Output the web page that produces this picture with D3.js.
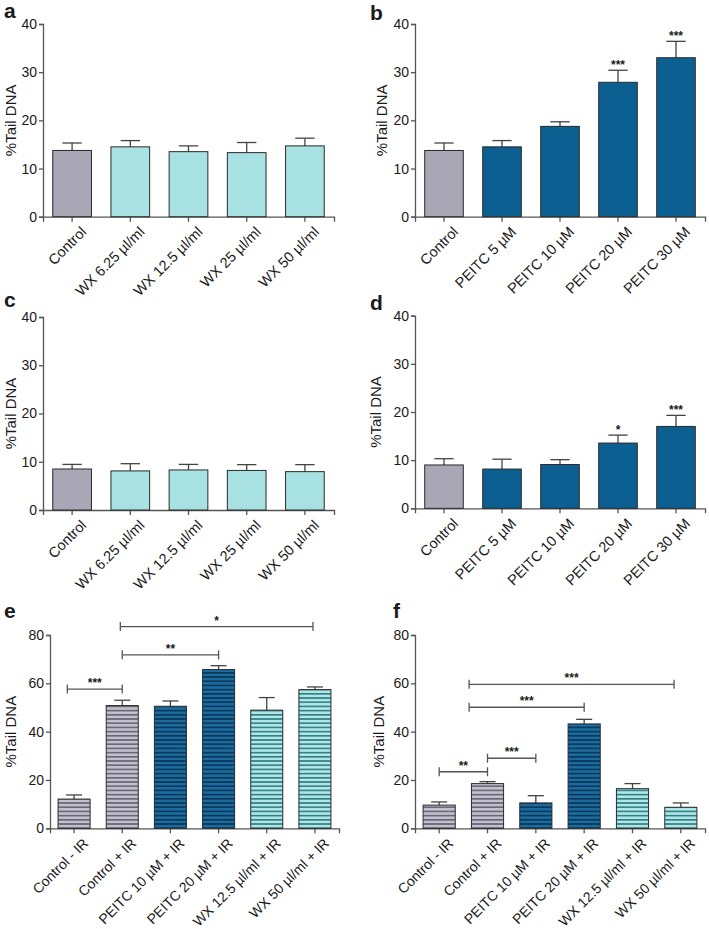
<!DOCTYPE html>
<html><head><meta charset="utf-8">
<script src="https://cdn.jsdelivr.net/npm/d3@7"></script>
<style>
html,body{margin:0;padding:0;background:#fff;}
text{font-family:"Liberation Sans",Arial,sans-serif;fill:#1a1a1a;}
</style></head>
<body>
<svg id="chart" width="709" height="929"></svg>
<script>
// ---- data ----
const catsWX = ["Control","WX 6.25 µl/ml","WX 12.5 µl/ml","WX 25 µl/ml","WX 50 µl/ml"];
const catsPE = ["Control","PEITC 5 µM","PEITC 10 µM","PEITC 20 µM","PEITC 30 µM"];
const catsIR = ["Control - IR","Control + IR","PEITC 10 µM + IR","PEITC 20 µM + IR","WX 12.5 µl/ml + IR","WX 50 µl/ml + IR"];
const groupsWX = ["ctrl","wx","wx","wx","wx"];
const groupsPE = ["ctrl","peitc","peitc","peitc","peitc"];
const groupsIR = ["ctrl","ctrl","peitc","peitc","wx","wx"];

const valsA = [13.75, 14.5, 13.5, 13.3, 14.7];
const errA  = [1.55, 1.3, 1.2, 2.1, 1.6];
const valsB = [13.75, 14.5, 18.75, 27.9, 33.0];
const errB  = [1.55, 1.3, 0.95, 2.5, 3.4];
const starsB = ["","","","***","***"];
const valsC = [8.5, 8.1, 8.3, 8.2, 7.95];
const errC  = [0.95, 1.5, 1.15, 1.2, 1.45];
const valsD = [9.0, 8.15, 9.1, 13.55, 17.0];
const errD  = [1.3, 2.05, 1.0, 1.65, 2.3];
const starsD = ["","","","*","***"];
const valsE = [12.1, 50.8, 50.5, 65.7, 48.9, 57.4];
const errE  = [1.7, 2.2, 2.2, 1.6, 5.2, 1.1];
const valsF = [9.6, 18.5, 10.5, 43.2, 16.4, 8.7];
const errF  = [1.3, 0.8, 3.0, 1.9, 2.1, 1.8];
const bracketsE = [
  {from:-0.14, to:1, y:57.6, label:"***"},
  {from:1, to:3, y:71.8, label:"**"},
  {from:0.96, to:4.96, y:83.5, label:"*"}
];
const bracketsF = [
  {from:0, to:1, y:23.4, label:"**"},
  {from:1, to:2, y:29.0, label:"***"},
  {from:0.62, to:3, y:50.1, label:"***"},
  {from:0.62, to:4.86, y:59.6, label:"***"}
];
const ticks40 = [0,10,20,30,40];
const ticks80 = [0,20,40,60,80];

// ---- layout ----
const panels = [
  {id:"a", cats:catsWX, groups:groupsWX, vals:valsA, err:errA, ticks:ticks40, max:40, ax:43, xEnd:334, y0:216.7, y1:24, lx:4, ly:18, tx:11, pattern:false, lf:14.5},
  {id:"b", cats:catsPE, groups:groupsPE, vals:valsB, err:errB, stars:starsB, ticks:ticks40, max:40, ax:415, xEnd:705, y0:216.7, y1:24, lx:370, ly:20, tx:382, pattern:false, lf:14.5},
  {id:"c", cats:catsWX, groups:groupsWX, vals:valsC, err:errC, ticks:ticks40, max:40, ax:43, xEnd:334, y0:510, y1:317, lx:4, ly:307, tx:11, pattern:false, lf:14.5},
  {id:"d", cats:catsPE, groups:groupsPE, vals:valsD, err:errD, stars:starsD, ticks:ticks40, max:40, ax:415, xEnd:705, y0:508.3, y1:315.7, lx:370, ly:310, tx:376, pattern:false, lf:14.5},
  {id:"e", cats:catsIR, groups:groupsIR, vals:valsE, err:errE, brackets:bracketsE, ticks:ticks80, max:80, ax:50, xEnd:339, y0:828.3, y1:635, lx:4, ly:618, tx:11, pattern:true, lf:14},
  {id:"f", cats:catsIR, groups:groupsIR, vals:valsF, err:errF, brackets:bracketsF, ticks:ticks80, max:80, ax:415, xEnd:705, y0:828.3, y1:635, lx:393, ly:618, tx:379, pattern:true, lf:14}
];

const solid = {ctrl:"#a9a7b6", wx:"#a7e1e2", peitc:"#0b5f91"};
const stripe = {
  ctrl:{bg:"#c2c0cc", fg:"#666475"},
  wx:{bg:"#b0e6e6", fg:"#2e7f84"},
  peitc:{bg:"#1a6c9e", fg:"#0a3558"}
};
const axisColor = "#555";

const svg = d3.select("#chart");
const defs = svg.append("defs");
Object.entries(stripe).forEach(([k,c]) => {
  const p = defs.append("pattern").attr("id","pat-"+k).attr("patternUnits","userSpaceOnUse")
    .attr("width",8).attr("height",4.2);
  p.append("rect").attr("width",8).attr("height",4.2).attr("fill",c.bg);
  p.append("rect").attr("y",0).attr("width",8).attr("height",1.6).attr("fill",c.fg);
});

panels.forEach(P => {
  const g = svg.append("g");
  const x = d3.scaleBand().domain(P.cats).range([P.ax, P.xEnd]).paddingInner(0.335).paddingOuter(0.1675);
  const y = d3.scaleLinear().domain([0, P.max]).range([P.y0, P.y1]);
  const bw = x.bandwidth();
  const step = x.step();

  // y axis
  const ya = g.append("g").attr("transform",`translate(${P.ax},0)`)
    .call(d3.axisLeft(y).tickValues(P.ticks).tickSizeOuter(0).tickSize(4).tickPadding(2));
  ya.selectAll("path,line").attr("stroke",axisColor).attr("stroke-width",1.3);
  ya.selectAll("text").style("font-size","14px").attr("fill","#1a1a1a");

  // x axis
  const xa = g.append("g").attr("transform",`translate(0,${P.y0})`)
    .call(d3.axisBottom(x).tickSizeOuter(0).tickSize(5));
  xa.selectAll("path,line").attr("stroke",axisColor).attr("stroke-width",1.3);
  xa.selectAll("text")
    .style("font-size",P.lf+"px").attr("fill","#1a1a1a")
    .attr("text-anchor","end")
    .attr("dy",null).attr("y",null)
    .attr("transform","translate(10,11) rotate(-45)")
    .attr("dy","0.5em");

  // bars
  P.cats.forEach((c,i) => {
    const grp = P.groups[i];
    const top = y(P.vals[i]);
    const cx = x(c) + bw/2;
    const et = y(P.vals[i] + P.err[i]);
    g.append("line").attr("x1",cx).attr("x2",cx).attr("y1",top).attr("y2",et)
      .attr("stroke","#444").attr("stroke-width",1.3);
    g.append("line").attr("x1",cx - bw*0.25).attr("x2",cx + bw*0.25).attr("y1",et).attr("y2",et)
      .attr("stroke","#444").attr("stroke-width",1.3);
    g.append("rect").attr("x",x(c)).attr("y",top).attr("width",bw).attr("height",P.y0 - top)
      .attr("fill", P.pattern ? `url(#pat-${grp})` : solid[grp])
      .attr("stroke","#2a2a2a").attr("stroke-width",1);
    if (P.stars && P.stars[i]) {
      g.append("text").attr("x",cx).attr("y",et - 1).attr("text-anchor","middle")
        .style("font-size","12px").style("font-weight","bold").text(P.stars[i]);
    }
  });

  // brackets
  (P.brackets || []).forEach(b => {
    const x0 = x(P.cats[0]) + bw/2;
    const xa1 = x0 + b.from*step, xb = x0 + b.to*step, yy = y(b.y);
    const bg = g.append("g").attr("stroke","#555").attr("stroke-width",1.3);
    bg.append("line").attr("x1",xa1).attr("x2",xb).attr("y1",yy).attr("y2",yy);
    bg.append("line").attr("x1",xa1).attr("x2",xa1).attr("y1",yy-4.5).attr("y2",yy+4.5);
    bg.append("line").attr("x1",xb).attr("x2",xb).attr("y1",yy-4.5).attr("y2",yy+4.5);
    g.append("text").attr("x",(xa1+xb)/2).attr("y",yy - 2).attr("text-anchor","middle")
      .style("font-size","12px").style("font-weight","bold").text(b.label);
  });

  // y title
  g.append("text").attr("transform",`translate(${P.tx},${(P.y0+P.y1)/2}) rotate(-90)`)
    .attr("text-anchor","middle").attr("dy","0.35em").style("font-size","15px").text("%Tail DNA");

  // panel letter
  g.append("text").attr("x",P.lx).attr("y",P.ly).style("font-size","21px").style("font-weight","bold")
    .attr("fill","#000").text(P.id);
});
</script>
</body></html>
